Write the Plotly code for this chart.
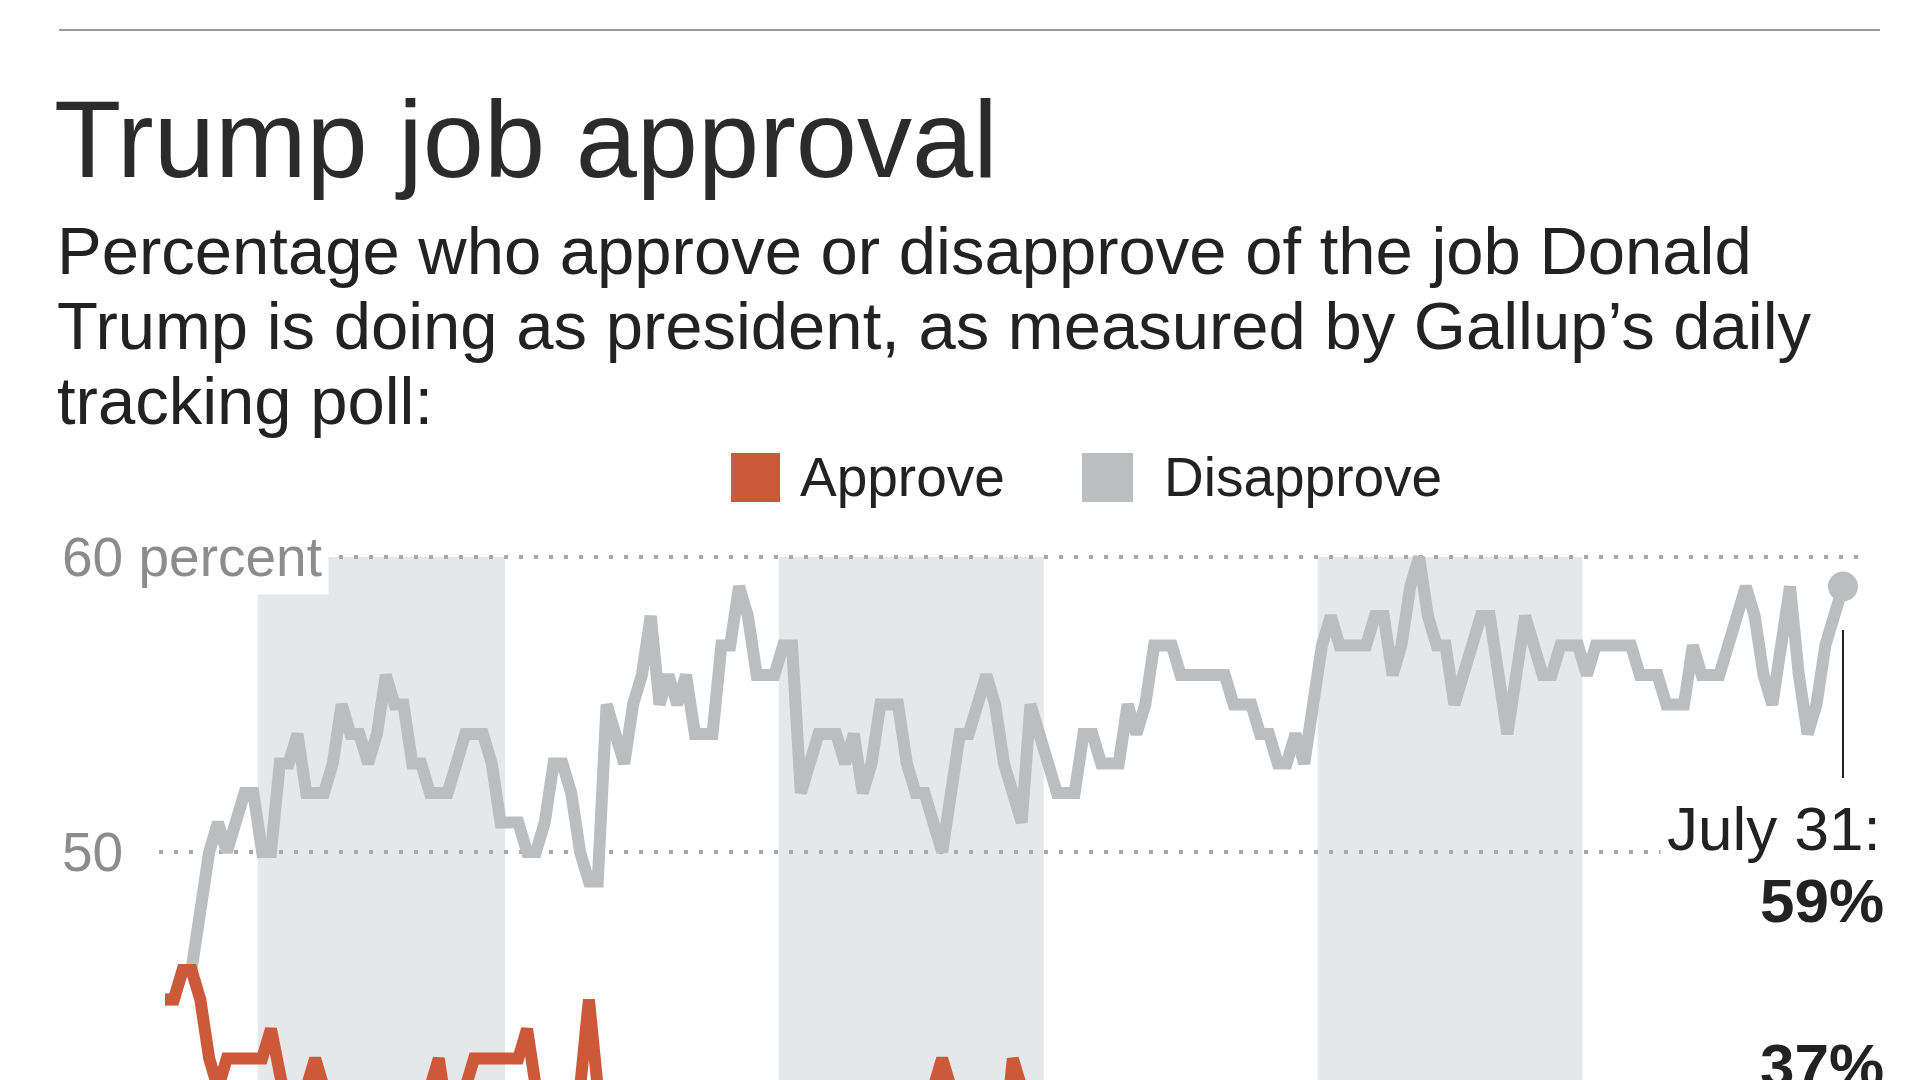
import pandas as pd
import plotly.graph_objects as go

# ---------------- data ----------------
dates = pd.date_range("2017-01-22", "2017-07-31", freq="D")

disapprove = [
    45, 45, 46, 46, 48, 50, 51, 50, 51, 52,
    52, 50, 50, 53, 53, 54, 52, 52, 52, 53,
    55, 54, 54, 53, 54, 56, 55, 55, 53, 53,
    52, 52, 52, 53, 54, 54, 54, 53, 51, 51,
    51, 50, 50, 51, 53, 53, 52, 50, 49, 49,
    55, 54, 53, 55, 56, 58, 55, 56, 55, 56,
    54, 54, 54, 57, 57, 59, 58, 56, 56, 56,
    57, 57, 52, 53, 54, 54, 54, 53, 54, 52,
    53, 55, 55, 55, 53, 52, 52, 51, 50, 52,
    54, 54, 55, 56, 55, 53, 52, 51, 55, 54,
    53, 52, 52, 52, 54, 54, 53, 53, 53, 55,
    54, 55, 57, 57, 57, 56, 56, 56, 56, 56,
    56, 55, 55, 55, 54, 54, 53, 53, 54, 53,
    55, 57, 58, 57, 57, 57, 57, 58, 58, 56,
    57, 59, 60, 58, 57, 57, 55, 56, 57, 58,
    58, 56, 54, 56, 58, 57, 56, 56, 57, 57,
    57, 56, 57, 57, 57, 57, 57, 56, 56, 56,
    55, 55, 55, 57, 56, 56, 56, 57, 58, 59,
    58, 56, 55, 57, 59, 56, 54, 55, 57, 58,
    59,
]

approve = [
    45, 45, 46, 46, 45, 43, 42, 43, 43, 43,
    43, 43, 44, 42, 41, 42, 42, 43, 42, 41,
    40, 40, 41, 41, 40, 39, 40, 40, 41, 42,
    42, 43, 41, 41, 42, 43, 43, 43, 43, 43,
    43, 44, 42, 42, 42, 41, 42, 42, 45, 42,
    40, 41, 42, 40, 39, 37, 39, 38, 39, 38,
    40, 40, 40, 37, 37, 35, 36, 38, 38, 38,
    37, 37, 42, 41, 40, 40, 40, 41, 40, 42,
    41, 40, 39, 39, 41, 42, 42, 42, 43, 42,
    40, 40, 40, 39, 38, 40, 43, 42, 40, 41,
    42, 42, 42, 42, 40, 40, 41, 41, 41, 40,
    41, 40, 38, 38, 38, 39, 39, 39, 39, 39,
    39, 40, 40, 40, 41, 41, 42, 42, 41, 42,
    40, 38, 37, 38, 38, 38, 37, 37, 39, 38,
    37, 36, 38, 38, 38, 40, 39, 38, 37, 37,
    39, 41, 39, 37, 37, 38, 39, 39, 38, 38,
    38, 39, 38, 38, 38, 38, 38, 39, 39, 39,
    40, 40, 40, 40, 38, 39, 39, 38, 37, 36,
    38, 39, 40, 38, 36, 38, 41, 40, 38, 37,
    37,
]

series_names = ["Approve", "Disapprove"]
y_ticks = [50, 60]
y_tick_text = ["50", "60 percent"]
shaded_months = [("2017-02-01", "2017-03-01"),
                 ("2017-04-01", "2017-05-01"),
                 ("2017-06-01", "2017-07-01")]

title = "Trump job approval"
subtitle_lines = [
    "Percentage who approve or disapprove of the job Donald",
    "Trump is doing as president, as measured by Gallup\u2019s daily",
    "tracking poll:",
]

# ---------------- style ----------------
OFF = 8                      # page body margin
PAGE_W, PAGE_H = 1920, 1080
W, H = PAGE_W - OFF, PAGE_H - OFF
L, R, T, B = 159, 1867, 540, 1080   # plot area in page pixels
ORANGE = "#cc5a3a"
GREY = "#bcbdbf"
BAND = "#e6e7e9"
FONT = "Liberation Sans"
BAND_SHIFT = pd.Timedelta(hours=12)


def px_x(p):
    return (p - L) / (R - L)


def px_y(p):
    return (B - p) / (B - T)


fig = go.Figure()

fig.add_trace(go.Scatter(
    x=dates, y=disapprove, mode="lines", name=series_names[1],
    line=dict(color=GREY, width=12), hoverinfo="x+y"))
fig.add_trace(go.Scatter(
    x=dates, y=approve, mode="lines", name=series_names[0],
    line=dict(color=ORANGE, width=12), hoverinfo="x+y"))
# end marker on disapprove
fig.add_trace(go.Scatter(
    x=[dates[-1]], y=[disapprove[-1]], mode="markers",
    marker=dict(color=GREY, size=30), showlegend=False, hoverinfo="skip"))

shapes = []
for start, end in shaded_months:
    shapes.append(dict(type="rect", xref="x", yref="y",
                       x0=pd.Timestamp(start) + BAND_SHIFT,
                       x1=pd.Timestamp(end) + BAND_SHIFT,
                       y0=30, y1=y_ticks[-1], fillcolor=BAND, line_width=0,
                       layer="below"))
# top rule
shapes.append(dict(type="line", xref="paper", yref="paper",
                   x0=px_x(59), x1=px_x(1880), y0=px_y(30), y1=px_y(30),
                   line=dict(color="#9a9a9a", width=2)))
# leader line for end label
shapes.append(dict(type="line", xref="x", yref="paper",
                   x0=dates[-1], x1=dates[-1], y0=px_y(630), y1=px_y(778),
                   line=dict(color="#222222", width=2)))
# legend swatches
shapes.append(dict(type="rect", xref="paper", yref="paper",
                   x0=px_x(731), x1=px_x(780), y0=px_y(502), y1=px_y(453),
                   fillcolor=ORANGE, line_width=0))
shapes.append(dict(type="rect", xref="paper", yref="paper",
                   x0=px_x(1082), x1=px_x(1133), y0=px_y(502), y1=px_y(453),
                   fillcolor=GREY, line_width=0))

annotations = []
annotations.append(dict(text=title, xref="paper", yref="paper",
                        x=px_x(52), y=px_y(138), xanchor="left", yanchor="middle",
                        showarrow=False, font=dict(family=FONT, size=110, color="#2b2b2b")))
for i, line in enumerate(subtitle_lines):
    annotations.append(dict(text=line, xref="paper", yref="paper",
                            x=px_x(55), y=px_y(250 + 75 * i), xanchor="left",
                            yanchor="middle", showarrow=False,
                            font=dict(family=FONT, size=67, color="#222222")))
annotations.append(dict(text=series_names[0], xref="paper", yref="paper",
                        x=px_x(798), y=px_y(477), xanchor="left", yanchor="middle",
                        showarrow=False, font=dict(family=FONT, size=55, color="#222222")))
annotations.append(dict(text=series_names[1], xref="paper", yref="paper",
                        x=px_x(1162), y=px_y(477), xanchor="left", yanchor="middle",
                        showarrow=False, font=dict(family=FONT, size=55, color="#222222")))
for val, txt in zip(y_ticks, y_tick_text):
    annotations.append(dict(text=txt, xref="paper", yref="y",
                            x=px_x(55), y=val, xanchor="left", yanchor="middle",
                            showarrow=False, bgcolor="white", borderpad=6,
                            font=dict(family=FONT, size=55, color="#8c8c8c")))
end_label = dates[-1].strftime("%B")[:4] + " " + str(dates[-1].day) + ":"
annotations.append(dict(text=end_label, xref="paper", yref="paper",
                        x=px_x(1888), y=px_y(828), xanchor="right", yanchor="middle",
                        showarrow=False, bgcolor="white", borderpad=6,
                        font=dict(family=FONT, size=62, color="#222222")))
annotations.append(dict(text=f"<b>{disapprove[-1]}%</b>", xref="paper", yref="paper",
                        x=px_x(1886), y=px_y(900), xanchor="right", yanchor="middle",
                        showarrow=False,
                        font=dict(family=FONT, size=62, color="#222222")))
annotations.append(dict(text=f"<b>{approve[-1]}%</b>", xref="paper", yref="paper",
                        x=px_x(1886), y=px_y(1065), xanchor="right", yanchor="middle",
                        showarrow=False,
                        font=dict(family=FONT, size=62, color="#222222")))

fig.update_layout(
    width=W, height=H,
    margin=dict(l=L - OFF, r=PAGE_W - R, t=T - OFF, b=PAGE_H - B, pad=0),
    paper_bgcolor="white", plot_bgcolor="white",
    showlegend=False,
    shapes=shapes, annotations=annotations,
    xaxis=dict(type="date", range=["2017-01-21 07:42", "2017-08-02 17:16"],
               showgrid=False, showticklabels=False, zeroline=False,
               showline=False, ticks=""),
    yaxis=dict(range=[42.271, 60.576], tickvals=y_ticks, showticklabels=False,
               showgrid=True, gridcolor="#a8a8a8", gridwidth=4,
               griddash="4px,11px", zeroline=False, showline=False, ticks=""),
)

fig.write_html("out.html")
